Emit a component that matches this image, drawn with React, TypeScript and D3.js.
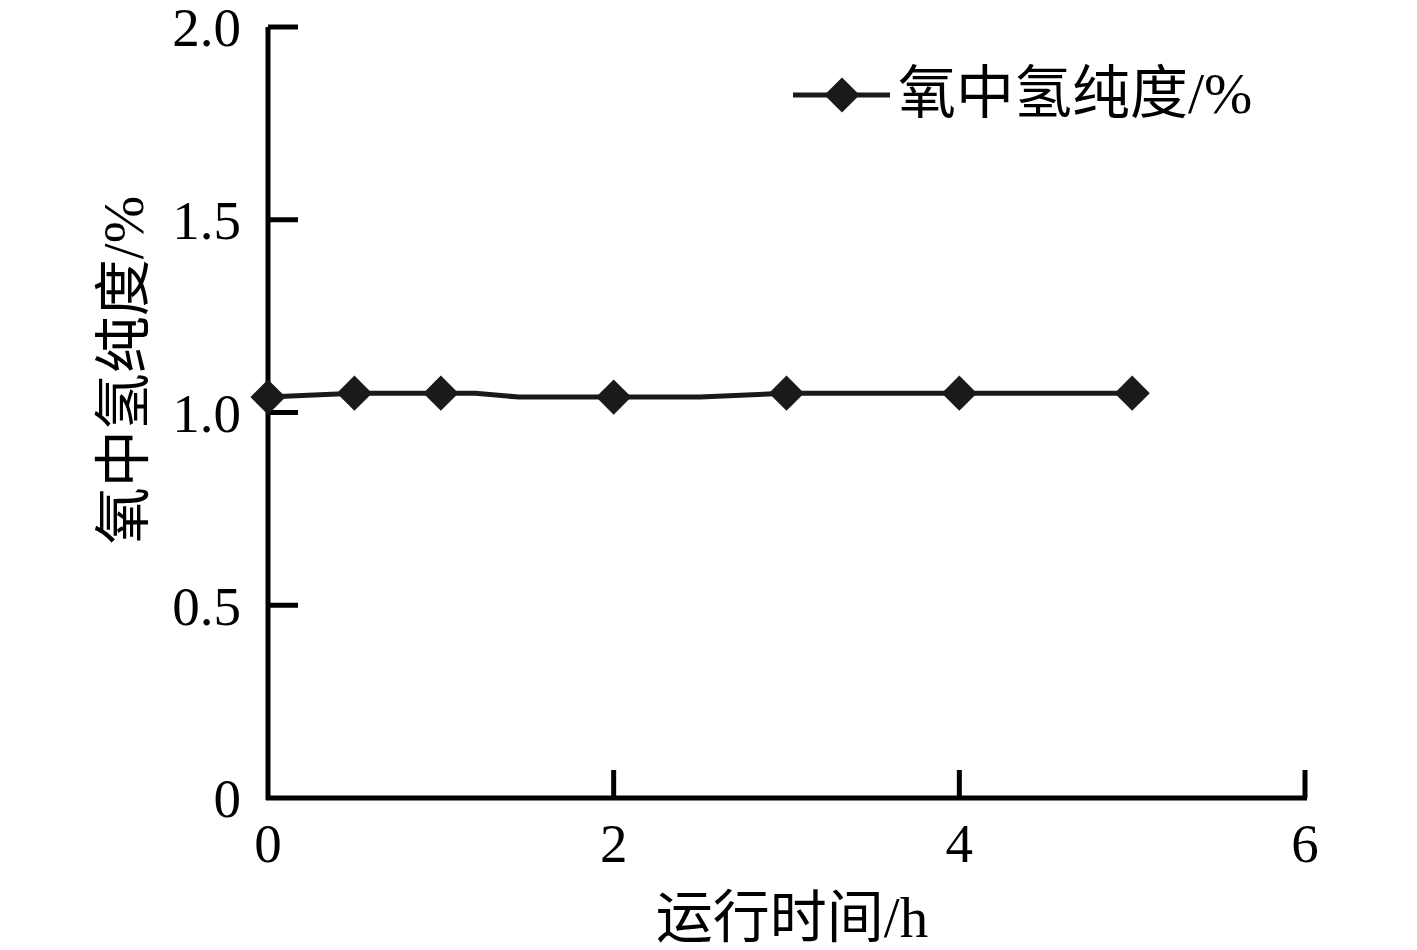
import React from "react";
import * as d3 from "d3";

const lineTimes = [0, 0.5, 1, 1.2, 1.45, 2, 2.5, 3, 4, 5];
const lineValues = [1.04, 1.05, 1.05, 1.05, 1.04, 1.04, 1.04, 1.05, 1.05, 1.05];
const markerTimes = [0, 0.5, 1, 2, 3, 4, 5];
const markerValues = [1.04, 1.05, 1.05, 1.04, 1.05, 1.05, 1.05];
const xTicks = [0, 2, 4, 6];
const xTickLabels = ["0", "2", "4", "6"];
const yTicks = [0, 0.5, 1.0, 1.5, 2.0];
const yTickLabels = ["0", "0.5", "1.0", "1.5", "2.0"];
const seriesName = "氧中氢纯度/%";
const xTitle = "运行时间/h";
const yTitle = "氧中氢纯度/%";

const W = 1417;
const H = 950;
const x = d3.scaleLinear().domain([0, 6]).range([268, 1305]);
const y = d3.scaleLinear().domain([0, 2]).range([798, 27]);
const col = "#1a1a1a";
const fontFam = "'Liberation Serif', 'Times New Roman', 'Noto Sans CJK SC', serif";

export default function App() {
  const linePts: [number, number][] = lineTimes.map((t, i) => [t, lineValues[i]]);
  const lineGen = d3
    .line<[number, number]>()
    .x((d) => x(d[0]))
    .y((d) => y(d[1]));
  const diamond = d3.symbol().type(d3.symbolSquare).size(620)() as string;
  const legendY = 95;
  return (
    <svg
      width={W}
      height={H}
      style={{ position: "absolute", left: 0, top: 0, background: "#fff" }}
      fontFamily={fontFam}
    >
      <rect x={0} y={0} width={W} height={H} fill="#fff" />
      {/* axes */}
      <line x1={x(0)} x2={x(0)} y1={y(2)} y2={y(0) + 2} stroke="#000" strokeWidth={5} />
      <line x1={x(0) - 2} x2={x(6) + 2} y1={y(0)} y2={y(0)} stroke="#000" strokeWidth={5} />
      {yTicks.map((t, i) => (
        <g key={"yt" + i}>
          {t > 0 && (
            <line x1={x(0)} x2={x(0) + 30} y1={y(t)} y2={y(t)} stroke="#000" strokeWidth={5} />
          )}
          <text
            x={241}
            y={y(t)}
            dy="0.35em"
            textAnchor="end"
            fontSize={55}
            fill="#000"
          >
            {yTickLabels[i]}
          </text>
        </g>
      ))}
      {xTicks.map((t, i) => (
        <g key={"xt" + i}>
          {t > 0 && (
            <line x1={x(t)} x2={x(t)} y1={y(0)} y2={y(0) - 28} stroke="#000" strokeWidth={5} />
          )}
          <text x={x(t)} y={862} textAnchor="middle" fontSize={55} fill="#000">
            {xTickLabels[i]}
          </text>
        </g>
      ))}
      {/* series */}
      <path d={lineGen(linePts) as string} fill="none" stroke={col} strokeWidth={5} />
      {markerTimes.map((t, i) => (
        <path
          key={"m" + i}
          d={diamond}
          transform={`translate(${x(t)},${y(markerValues[i])}) rotate(45)`}
          fill={col}
        />
      ))}
      {/* titles */}
      <text x={792} y={937} textAnchor="middle" fontSize={57} fill="#000">
        {xTitle}
      </text>
      <text
        transform={`translate(143,370) rotate(-90)`}
        textAnchor="middle"
        fontSize={57}
        fill="#000"
      >
        {yTitle}
      </text>
      {/* legend */}
      <line x1={793} x2={890} y1={legendY} y2={legendY} stroke={col} strokeWidth={5} />
      <path d={diamond} transform={`translate(842,${legendY}) rotate(45)`} fill={col} />
      <text x={898} y={legendY + 18} fontSize={58} fill="#000">
        {seriesName}
      </text>
    </svg>
  );
}
